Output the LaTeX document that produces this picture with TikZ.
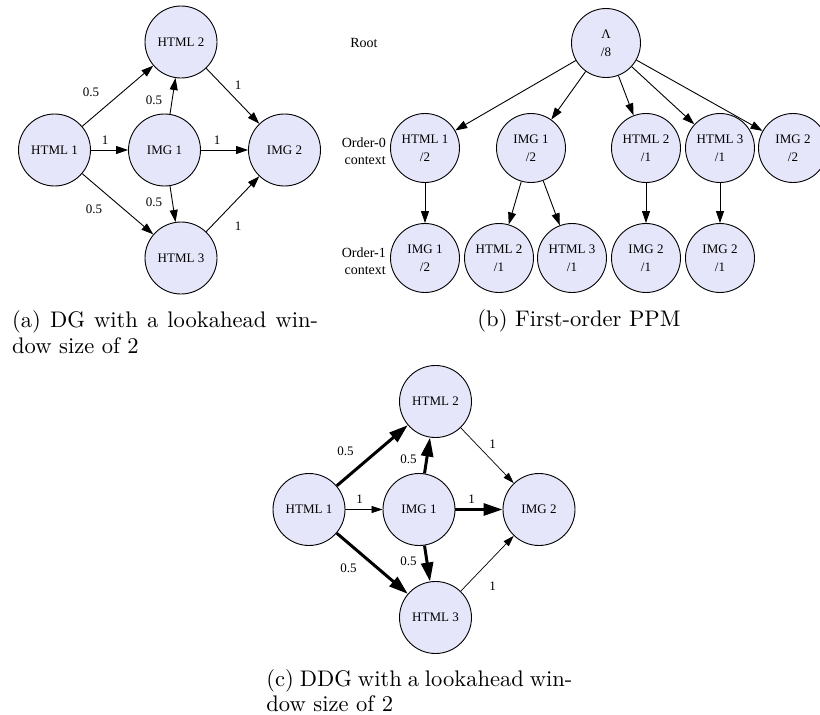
\documentclass[tikz,border=0pt]{standalone}
\usepackage{fontspec}
\newfontfamily\tms{Liberation Serif}
\usetikzlibrary{arrows.meta}
\definecolor{nodefill}{HTML}{E6E6FA}
\tikzset{
 gnode/.style={circle, draw=black, line width=0.9pt, fill=nodefill, minimum size=72pt, inner sep=0pt, font=\tms\fontsize{13}{18}\selectfont, align=center},
 pnode/.style={gnode, minimum size=69pt},
 elabel/.style={font=\tms\fontsize{13}{15}\selectfont, inner sep=0pt},
 olabel/.style={font=\tms\fontsize{14}{16.5}\selectfont, align=right, inner sep=0pt},
 dgedge/.style={line width=0.9pt, -{Triangle[length=12pt,width=8pt]}},
 thinedge/.style={line width=0.7pt, -{Triangle[length=11pt,width=7pt]}},
 boldedge/.style={line width=3pt, -{Triangle[length=19pt,width=12pt]}},
 capt/.style={scale=2.255, inner sep=0pt, font=\fontsize{10}{12}\selectfont, anchor=base west},
}
\begin{document}
\begin{tikzpicture}[x=1pt,y=-1pt]
\clip (0,0) rectangle (820,715);
% ---------- panel (a)
\node[gnode] (aH1) at (54.5,150) {HTML 1};
\node[gnode] (aH2) at (181,42) {HTML 2};
\node[gnode] (aI1) at (164.5,150) {IMG 1};
\node[gnode] (aI2) at (284.5,150) {IMG 2};
\node[gnode] (aH3) at (181,258) {HTML 3};
\draw[dgedge] (aH1) -- (aH2);
\draw[dgedge] (aH1) -- (aI1);
\draw[dgedge] (aH1) -- (aH3);
\draw[dgedge] (aI1) -- (aH2);
\draw[dgedge] (aI1) -- (aI2);
\draw[dgedge] (aI1) -- (aH3);
\draw[dgedge] (aH2) -- (aI2);
\draw[dgedge] (aH3) -- (aI2);
\node[elabel] (aL1) at (91,92) {0.5};
\node[elabel] (aL2) at (105,140) {1};
\node[elabel] (aL3) at (154,100) {0.5};
\node[elabel] (aL4) at (217,140) {1};
\node[elabel] (aL5) at (238,85) {1};
\node[elabel] (aL6) at (94,209) {0.5};
\node[elabel] (aL7) at (154,202) {0.5};
\node[elabel] (aL8) at (238,226.5) {1};
\node[capt] (capa1) at (11.7,327) {\makebox[135.7pt][s]{(a) DG with a lookahead win-}};
\node[capt] (capa2) at (11.7,353) {dow size of 2};
% ---------- panel (b)
\node[olabel] (root) at (364,43) {Root};
\node[olabel, anchor=east] (ord0) at (386,151) {Order-0\\context};
\node[olabel, anchor=east] (ord1) at (386,261) {Order-1\\context};
\node[pnode] (bR) at (606,43) {Λ\\/8};
\node[pnode] (b0H1) at (425,148) {HTML 1\\/2};
\node[pnode] (b0I1) at (531,148) {IMG 1\\/2};
\node[pnode] (b0H2) at (646,148) {HTML 2\\/1};
\node[pnode] (b0H3) at (720,148) {HTML 3\\/1};
\node[pnode] (b0I2) at (793,148) {IMG 2\\/2};
\node[pnode] (b1I1) at (425,258) {IMG 1\\/2};
\node[pnode] (b1H2) at (499,258) {HTML 2\\/1};
\node[pnode] (b1H3) at (572,258) {HTML 3\\/1};
\node[pnode] (b1I2a) at (646,258) {IMG 2\\/1};
\node[pnode] (b1I2b) at (720,258) {IMG 2\\/1};
\draw[dgedge] (bR) -- (b0H1);
\draw[dgedge] (bR) -- (b0I1);
\draw[dgedge] (bR) -- (b0H2);
\draw[dgedge] (bR) -- (b0H3);
\draw[dgedge] (bR) -- (b0I2);
\draw[dgedge] (b0H1) -- (b1I1);
\draw[dgedge] (b0I1) -- (b1H2);
\draw[dgedge] (b0I1) -- (b1H3);
\draw[dgedge] (b0H2) -- (b1I2a);
\draw[dgedge] (b0H3) -- (b1I2b);
\node[capt] (capb) at (477,326) {(b) First-order PPM};
% ---------- panel (c)
\node[gnode] (cH1) at (309,509.5) {HTML 1};
\node[gnode] (cH2) at (435.5,401.5) {HTML 2};
\node[gnode] (cI1) at (419,509.5) {IMG 1};
\node[gnode] (cI2) at (539,509.5) {IMG 2};
\node[gnode] (cH3) at (435.5,617.5) {HTML 3};
\draw[boldedge] (cH1) -- (cH2);
\draw[thinedge] (cH1) -- (cI1);
\draw[boldedge] (cH1) -- (cH3);
\draw[boldedge] (cI1) -- (cH2);
\draw[boldedge] (cI1) -- (cI2);
\draw[boldedge] (cI1) -- (cH3);
\draw[thinedge] (cH2) -- (cI2);
\draw[thinedge] (cH3) -- (cI2);
\node[elabel] (cL1) at (345.5,451.5) {0.5};
\node[elabel] (cL2) at (359.5,499.5) {1};
\node[elabel] (cL3) at (408.5,459.5) {0.5};
\node[elabel] (cL4) at (471.5,499.5) {1};
\node[elabel] (cL5) at (492.5,444.5) {1};
\node[elabel] (cL6) at (348.5,568.5) {0.5};
\node[elabel] (cL7) at (408.5,561.5) {0.5};
\node[elabel] (cL8) at (492.5,586) {1};
\node[capt] (capc1) at (266,686) {\makebox[135.7pt][s]{(c) DDG with a lookahead win-}};
\node[capt] (capc2) at (266,711) {dow size of 2};
\end{tikzpicture}
\end{document}
